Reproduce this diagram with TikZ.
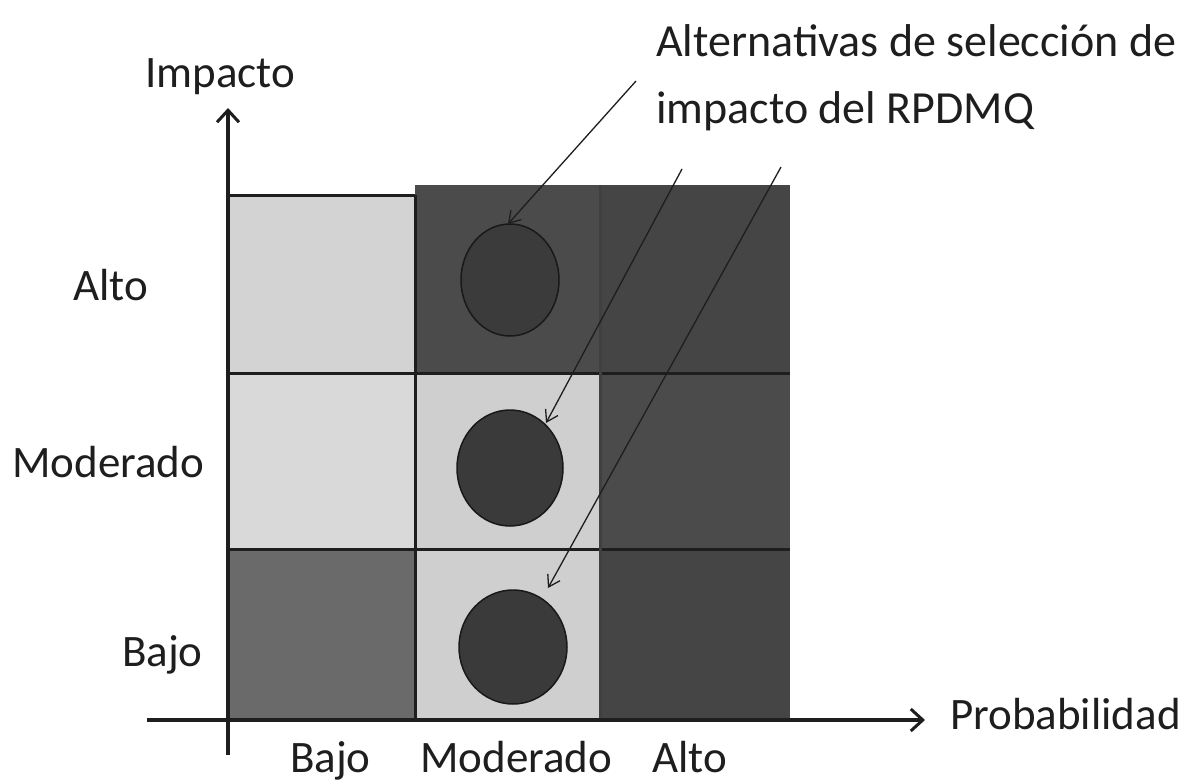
\documentclass[tikz,border=0pt]{standalone}
\usepackage{fontspec}
\setmainfont{Carlito}
\usetikzlibrary{arrows.meta,shapes.geometric}
\definecolor{lightA}{HTML}{D3D3D3}
\definecolor{lightB}{HTML}{D9D9D9}
\definecolor{lightC}{HTML}{CFCFCF}
\definecolor{darkA}{HTML}{4B4B4B}
\definecolor{darkB}{HTML}{454545}
\definecolor{midD}{HTML}{6A6A6A}
\definecolor{dotc}{HTML}{3A3A3A}
\definecolor{ink}{HTML}{1E1E1E}
\begin{document}
\begin{tikzpicture}[x=1pt,y=-1pt,
  lbl/.style={font=\fontsize{45}{52}\selectfont, text=ink, inner sep=0pt, anchor=base west},
  ttl/.style={font=\fontsize{46}{56}\selectfont, text=ink, inner sep=0pt, anchor=base west},
  gridline/.style={line width=3pt, draw=ink},
  axis/.style={line width=3.5pt, draw=ink, -{Straight Barb[length=12pt,width=22pt,line width=3pt]}},
  pointer/.style={line width=1.3pt, draw=ink, -{Straight Barb[length=11pt,width=14pt,line width=1.3pt]}},
  dot/.style={ellipse, draw=black!90, line width=1.5pt, fill=dotc, inner sep=0pt}]
\useasboundingbox (0,0) rectangle (1187,784);
\fill[white] (0,0) rectangle (1187,784);
% cells
\fill[lightA] (230,195) rectangle (415,373);
\fill[darkA] (415,185) rectangle (600,373);
\fill[darkB] (600,185) rectangle (790,373);
\fill[lightB] (230,373) rectangle (415,549);
\fill[lightC] (415,373) rectangle (600,549);
\fill[darkA] (600,373) rectangle (790,549);
\fill[midD] (230,549) rectangle (415,720);
\fill[lightC] (415,549) rectangle (600,720);
\fill[darkB] (600,549) rectangle (790,720);
% grid lines
\draw[gridline] (230,195) -- (415,195);
\draw[gridline] (230,373) -- (790,373);
\draw[gridline] (230,549) -- (790,549);
\draw[gridline] (415,195) -- (415,720);
\draw[gridline, draw=black!75] (600,185) -- (600,720);
% dots
\node[dot, minimum width=98pt, minimum height=112pt, fill=darkB!85!black] (c1) at (510,280) {};
\node[dot, minimum width=106pt, minimum height=116pt] (c2) at (510,468) {};
\node[dot, minimum width=108pt, minimum height=114pt] (c3) at (513,647) {};
% axes
\coordinate (ybot) at (228,755);
\coordinate (ytop) at (228,108);
\coordinate (xl) at (147,720);
\coordinate (xr) at (925,720);
\draw[axis] (ybot) -- (ytop);
\draw[axis] (xl) -- (xr);
% labels
\node[lbl] (impacto) at (145,88) {Impacto};
\node[lbl] (ialto) at (73,300) {Alto};
\node[lbl] (imod) at (12,477) {Moderado};
\node[lbl] (ibajo) at (122,666) {Bajo};
\node[lbl] (pbajo) at (290,772) {Bajo};
\node[lbl] (pmod) at (420,772) {Moderado};
\node[lbl] (palto) at (652,772) {Alto};
\node[lbl] (prob) at (950,729) {Probabilidad};
\node[ttl] (t1) at (656,57) {Alternativas de selección de};
\node[ttl] (t2) at (656,124) {impacto del RPDMQ};
% pointers
\coordinate (s1) at (636,81);
\coordinate (s2) at (682,169);
\coordinate (s3) at (781,167);
\coordinate (e1) at (508,224);
\coordinate (e2) at (546,423);
\coordinate (e3) at (548,588);
\draw[pointer] (s1) -- (e1);
\draw[pointer] (s2) -- (e2);
\draw[pointer] (s3) -- (e3);
\end{tikzpicture}
\end{document}
